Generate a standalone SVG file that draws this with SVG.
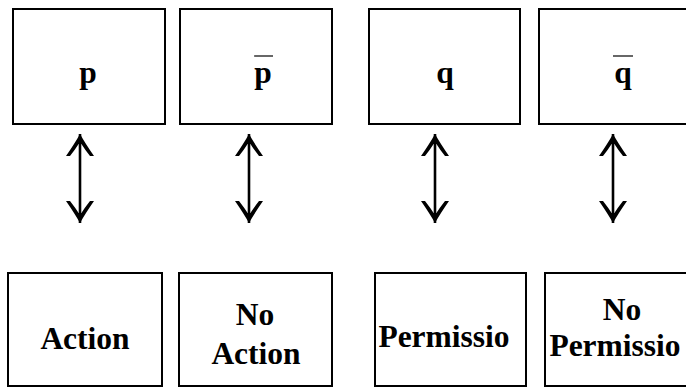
<svg xmlns="http://www.w3.org/2000/svg" width="686" height="388" viewBox="0 0 686 388">
<style>
.box{fill:#fff;stroke:#000;stroke-width:2}
.t{font-family:"Liberation Serif","Times New Roman",serif;font-weight:bold;font-size:31.5px;fill:#000;text-anchor:middle}
.bar{stroke:#000;stroke-width:1.2}
.arr{stroke:#000;stroke-width:2.6;fill:none;marker-start:url(#ah);marker-end:url(#ah)}
</style>
<defs>
<marker id="ah" markerUnits="userSpaceOnUse" orient="auto-start-reverse" refX="0" refY="0" markerWidth="30" markerHeight="34" viewBox="-26 -17 30 34" overflow="visible">
<path d="M0,0 Q-9,-5 -22,-14 L-22,-10 Q-15,-4.5 -10,-1.4 L-10,1.4 Q-15,4.5 -22,10 L-22,14 Q-9,5 0,0 Z" fill="#000"/>
</marker>
</defs>
<g id="node-p"><rect class="box" x="13" y="9" width="152" height="115"/><text class="t" x="88" y="83">p</text></g>
<g id="node-not-p"><rect class="box" x="180" y="9" width="152" height="115"/><line class="bar" x1="254" y1="56" x2="273" y2="56"/><text class="t" x="263" y="83">p</text></g>
<g id="node-q"><rect class="box" x="369" y="9" width="151" height="115"/><text class="t" x="445" y="83">q</text></g>
<g id="node-not-q"><rect class="box" x="539" y="9" width="152" height="115"/><line class="bar" x1="613" y1="56" x2="633" y2="56"/><text class="t" x="623" y="83">q</text></g>
<g id="node-action"><rect class="box" x="8" y="273" width="154" height="113"/><text class="t" x="85" y="349">Action</text></g>
<g id="node-no-action"><rect class="box" x="179" y="273" width="153" height="113"/><text class="t" x="255" y="325">No</text><text class="t" x="256" y="364">Action</text></g>
<g id="node-permission"><rect class="box" x="375" y="273" width="151" height="113"/><text class="t" x="444" y="347">Permissio</text></g>
<g id="node-no-permission"><rect class="box" x="545" y="273" width="146" height="113"/><text class="t" x="622" y="320">No</text><text class="t" x="615" y="356">Permissio</text></g>
<g id="connectors">
<line class="arr" x1="80" y1="134" x2="80" y2="223"/>
<line class="arr" x1="249" y1="134" x2="249" y2="223"/>
<line class="arr" x1="435" y1="134" x2="435" y2="223"/>
<line class="arr" x1="613" y1="134" x2="613" y2="223"/>
</g>
</svg>
